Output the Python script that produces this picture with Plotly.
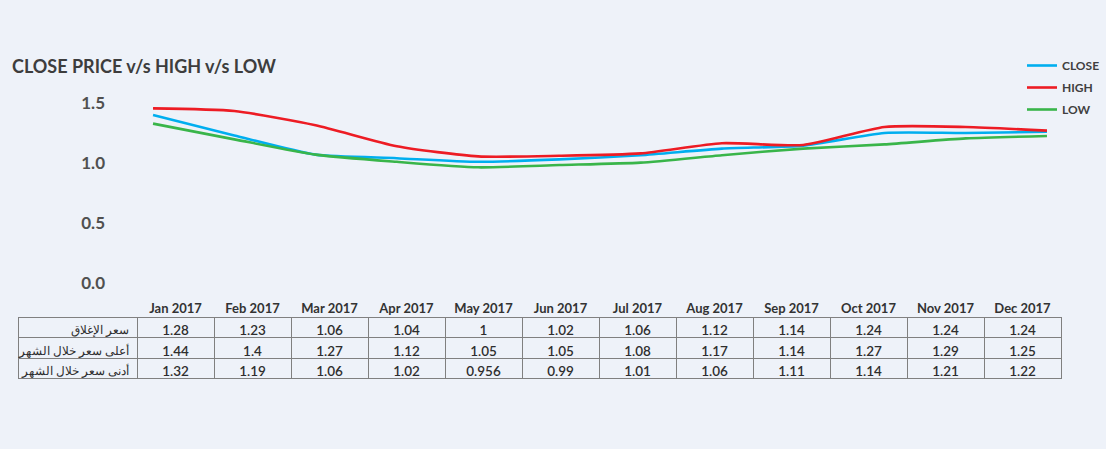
import plotly.graph_objects as go

# ---------------- data ----------------
months = ["Jan 2017", "Feb 2017", "Mar 2017", "Apr 2017", "May 2017", "Jun 2017",
          "Jul 2017", "Aug 2017", "Sep 2017", "Oct 2017", "Nov 2017", "Dec 2017"]

# line values
close_line = [1.40, 1.23, 1.07, 1.04, 1.01, 1.03, 1.065, 1.12, 1.145, 1.25, 1.25, 1.26]
high_line = [1.455, 1.433, 1.315, 1.14, 1.055, 1.06, 1.08, 1.165, 1.15, 1.30, 1.30, 1.27]
low_line = [1.328, 1.197, 1.07, 1.01, 0.964, 0.983, 1.003, 1.065, 1.12, 1.155, 1.205, 1.225]

# values printed in the table
row_labels = ["سعر الإغلاق", "أعلى سعر خلال الشهر", "أدنى سعر خلال الشهر"]
close_tbl = [1.28, 1.23, 1.06, 1.04, 1, 1.02, 1.06, 1.12, 1.14, 1.24, 1.24, 1.24]
high_tbl = [1.44, 1.4, 1.27, 1.12, 1.05, 1.05, 1.08, 1.17, 1.14, 1.27, 1.29, 1.25]
low_tbl = [1.32, 1.19, 1.06, 1.02, 0.956, 0.99, 1.01, 1.06, 1.11, 1.14, 1.21, 1.22]

series_names = ["CLOSE", "HIGH", "LOW"]
colors = ["#00aeef", "#ed1c24", "#39b54a"]

# ---------------- layout constants ----------------
W, H = 1106, 449
BG = "#eef2f9"
FONT = "Lato"
NB = "\u00a0"  # non-breaking space keeps table texts on one line

fig = go.Figure()

for name, vals, col in zip(series_names, [close_line, high_line, low_line], colors):
    fig.add_trace(go.Scatter(
        x=months, y=vals, name=name, mode="lines", legendgroup=name,
        line=dict(color=col, width=2.6, shape="spline", smoothing=0.6),
        xaxis="x", yaxis="y",
    ))

# table
header_vals = [""] + [m.replace(" ", NB) for m in months]
label_cells = [s.replace(" ", NB) for s in row_labels]
cell_vals = [label_cells] + [[f"{c:g}", f"{h:g}", f"{l:g}"]
                             for c, h, l in zip(close_tbl, high_tbl, low_tbl)]
fig.add_trace(go.Table(
    domain=dict(x=[18 / W, 1061 / W], y=[(H - 392) / H, (H - 295) / H]),
    columnwidth=[119] + [77] * 12,
    header=dict(
        values=header_vals,
        align="center",
        height=22,
        fill=dict(color="rgba(0,0,0,0)"),
        line=dict(color="rgba(0,0,0,0)", width=0),
        font=dict(family=FONT, size=13, color="#333333", weight=700),
    ),
    cells=dict(
        values=cell_vals,
        align=["right"] + ["center"] * 12,
        height=20.5,
        fill=dict(color="rgba(0,0,0,0)"),
        line=dict(color="#808080", width=1),
        font=dict(family=[FONT] * 13, size=[12] + [13.5] * 12, color="#2e2e2e",
                  weight=[400] + [600] * 12),
    ),
))

fig.update_layout(
    width=W, height=H, autosize=False,
    margin=dict(l=0, r=0, t=0, b=0, autoexpand=False),
    paper_bgcolor=BG, plot_bgcolor=BG,
    font=dict(family=FONT, color="#444444"),
    title=dict(
        text="CLOSE PRICE v/s HIGH v/s LOW",
        x=12 / W, xanchor="left", y=1 - 67 / H, yanchor="middle",
        font=dict(family=FONT, size=18, color="#3d3d3d", weight=700),
    ),
    xaxis=dict(
        domain=[144.9 / W, 1055.1 / W], range=[-0.1, 11.1],
        visible=False, type="category", automargin=False,
    ),
    yaxis=dict(
        domain=[(H - 283) / H, (H - 91) / H], range=[0, 1.6],
        anchor="free", position=105 / W, automargin=False,
        tickvals=[0, 0.5, 1.0, 1.5], tickformat=".1f",
        showgrid=False, zeroline=False, showline=False, ticks="",
        tickfont=dict(family=FONT, size=17, color="#505050", weight=700),
    ),
    legend=dict(
        x=1022 / W, xanchor="left", y=1 - 51 / H, yanchor="top",
        bgcolor="rgba(0,0,0,0)",
        font=dict(family=FONT, size=12, color="#404040", weight=700),
        itemwidth=30, tracegroupgap=3,
    ),
    showlegend=True,
)

fig.write_html("out.html",
               config={"displayModeBar": False, "responsive": False},
               post_script="document.body.style.margin='0px';")
